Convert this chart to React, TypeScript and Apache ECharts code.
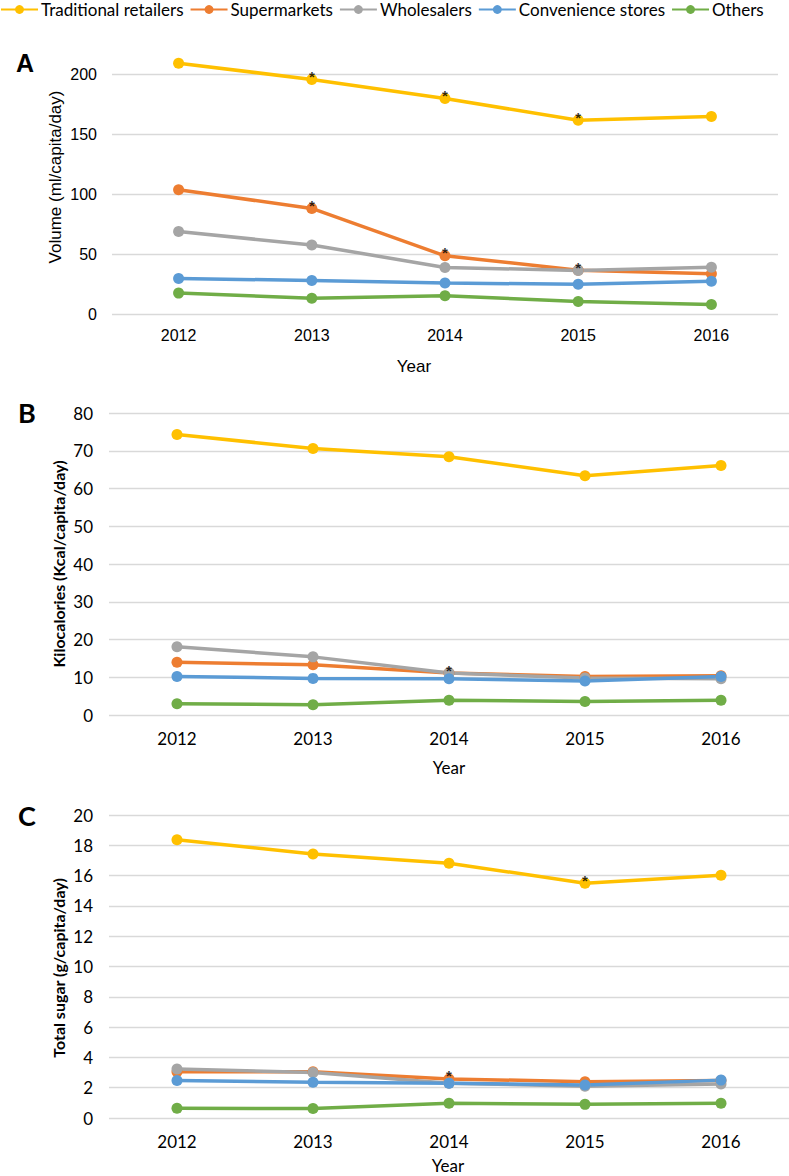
import React, { useEffect, useRef } from "react";
import * as echarts from "echarts";

const years = ["2012", "2013", "2014", "2015", "2016"];
const seriesNames = ["Traditional retailers", "Supermarkets", "Wholesalers", "Convenience stores", "Others"];
const colors = ["#FFC000", "#ED7D31", "#A5A5A5", "#5B9BD5", "#70AD47"];

// Panel A: Volume (ml/capita/day)
const volTraditional = [209, 195.5, 179.5, 161.5, 164.5];
const volSupermarkets = [103.5, 88, 48.5, 36.5, 33.5];
const volWholesalers = [68.7, 57.5, 38.8, 36.3, 39];
const volConvenience = [29.5, 28, 25.8, 24.8, 27.2];
const volOthers = [17.4, 13.2, 15.2, 10.4, 7.9];

// Panel B: Kilocalories (Kcal/capita/day)
const kcalTraditional = [74.3, 70.6, 68.4, 63.4, 66.1];
const kcalSupermarkets = [14.0, 13.3, 11.1, 10.2, 10.4];
const kcalWholesalers = [18.1, 15.4, 11.1, 9.8, 9.6];
const kcalConvenience = [10.2, 9.7, 9.6, 9.0, 10.2];
const kcalOthers = [3.0, 2.7, 3.9, 3.6, 3.9];

// Panel C: Total sugar (g/capita/day)
const sugarTraditional = [18.37, 17.42, 16.82, 15.5, 16.03];
const sugarSupermarkets = [3.06, 3.06, 2.58, 2.4, 2.47];
const sugarWholesalers = [3.24, 3.0, 2.3, 2.1, 2.25];
const sugarConvenience = [2.47, 2.36, 2.3, 2.18, 2.5];
const sugarOthers = [0.64, 0.62, 0.97, 0.9, 0.97];

// Significance marks (*): [seriesIndex, yearIndex]
const sigA = [[0, 1], [0, 2], [0, 3], [1, 1], [1, 2], [1, 3]];
const sigB = [[1, 2]];
const sigC = [[0, 3], [1, 2]];

// Axis ticks
const yMaxA = 200, yIntA = 50;
const yMaxB = 80, yIntB = 10;
const yMaxC = 20, yIntC = 2;

const panelTitles = ["A", "B", "C"];
const yNames = ["Volume (ml/capita/day)", "Kilocalories (Kcal/capita/day)", "Total sugar (g/capita/day)"];

export default function App() {
  const ref = useRef<HTMLDivElement>(null);
  useEffect(() => {
    if (!ref.current) return;
    const chart = echarts.init(ref.current, null, { renderer: "svg" });
    const panels = [
      { data: [volTraditional, volSupermarkets, volWholesalers, volConvenience, volOthers], sig: sigA, max: yMaxA, interval: yIntA },
      { data: [kcalTraditional, kcalSupermarkets, kcalWholesalers, kcalConvenience, kcalOthers], sig: sigB, max: yMaxB, interval: yIntB },
      { data: [sugarTraditional, sugarSupermarkets, sugarWholesalers, sugarConvenience, sugarOthers], sig: sigC, max: yMaxC, interval: yIntC },
    ];
    const fontA = "'Liberation Sans', Arial, sans-serif";
    const fontB = "Lato, 'Open Sans', sans-serif";
    const fonts = [fontA, fontB, fontB];
    const grids = [
      { left: 112, top: 74, width: 666, height: 240 },
      { left: 109, top: 413, width: 680, height: 302 },
      { left: 109, top: 815, width: 680, height: 303 },
    ];
    const xMargins = [13, 15, 15];
    const yMargins = [15, 16, 16];
    const tickSizes = [16, 17, 17];
    const series: any[] = [];
    panels.forEach((p, pi) => {
      p.data.forEach((d, si) => {
        series.push({
          name: seriesNames[si],
          type: "line",
          xAxisIndex: pi,
          yAxisIndex: pi,
          data: d,
          symbol: "circle",
          symbolSize: 11,
          clip: false,
          lineStyle: { width: 3.5, color: colors[si] },
          itemStyle: { color: colors[si] },
          emphasis: { disabled: true },
        });
      });
      series.push({
        name: "sig" + pi,
        type: "scatter",
        xAxisIndex: pi,
        yAxisIndex: pi,
        data: p.sig.map(([si, yi]) => [yi, p.data[si][yi]]),
        symbolSize: 1,
        itemStyle: { color: "rgba(0,0,0,0)" },
        z: 10,
        silent: true,
        label: {
          show: true,
          formatter: "*",
          position: "inside",
          offset: [0, -3],
          fontSize: 15,
          fontWeight: "bold",
          color: "#000",
          fontFamily: "'Liberation Sans', Arial, sans-serif",
        },
      });
    });
    const graphics: any[] = [];
    const letterPos = [[16, 63], [18, 412], [18, 815]];
    panelTitles.forEach((t, i) => {
      graphics.push({
        type: "text",
        x: letterPos[i][0],
        y: letterPos[i][1],
        style: {
          text: t,
          fontSize: i === 0 ? 25 : 27,
          fontWeight: "bold",
          fontFamily: fonts[i],
          fill: "#000",
          textVerticalAlign: "middle",
        },
      });
    });
    const yNamePos = [[55, 177], [58, 564], [58, 968]];
    yNames.forEach((t, i) => {
      graphics.push({
        type: "text",
        x: yNamePos[i][0],
        y: yNamePos[i][1],
        rotation: Math.PI / 2,
        style: {
          text: t,
          fontSize: i === 0 ? 17 : 16,
          fontWeight: i === 0 ? "normal" : "bold",
          fontFamily: fonts[i],
          fill: "#000",
          textAlign: "center",
          textVerticalAlign: "middle",
        },
      });
    });
    const yearPos = [[414, 366], [449, 767], [448, 1165]];
    yearPos.forEach((pos, i) => {
      graphics.push({
        type: "text",
        x: pos[0],
        y: pos[1],
        style: {
          text: "Year",
          fontSize: 17,
          fontFamily: fonts[i],
          fill: "#000",
          textAlign: "center",
          textVerticalAlign: "middle",
        },
      });
    });

    chart.setOption({
      animation: false,
      backgroundColor: "#fff",
      legend: {
        data: seriesNames,
        left: 0,
        top: 1,
        padding: 0,
        itemWidth: 37,
        itemHeight: 11,
        itemGap: 6,
        textStyle: { fontFamily: fontB, fontSize: 17, color: "#000", padding: [0, 0, 0, -2] },
      },
      grid: grids,
      xAxis: grids.map((_, i) => ({
        type: "category",
        gridIndex: i,
        data: years,
        axisLine: { show: false },
        axisTick: { show: false },
        axisLabel: { margin: xMargins[i], fontSize: tickSizes[i], fontFamily: fonts[i], color: "#000" },
      })),
      yAxis: panels.map((p, i) => ({
        type: "value",
        gridIndex: i,
        min: 0,
        max: p.max,
        interval: p.interval,
        axisLine: { show: false },
        axisTick: { show: false },
        splitLine: { show: true, lineStyle: { color: "#D9D9D9", width: 1.3 } },
        axisLabel: { margin: yMargins[i], fontSize: tickSizes[i], fontFamily: fonts[i], color: "#000" },
      })),
      series,
      graphic: graphics,
    });
    return () => chart.dispose();
  }, []);
  return <div ref={ref} style={{ position: "absolute", left: 0, top: 0, width: 789, height: 1176 }} />;
}
